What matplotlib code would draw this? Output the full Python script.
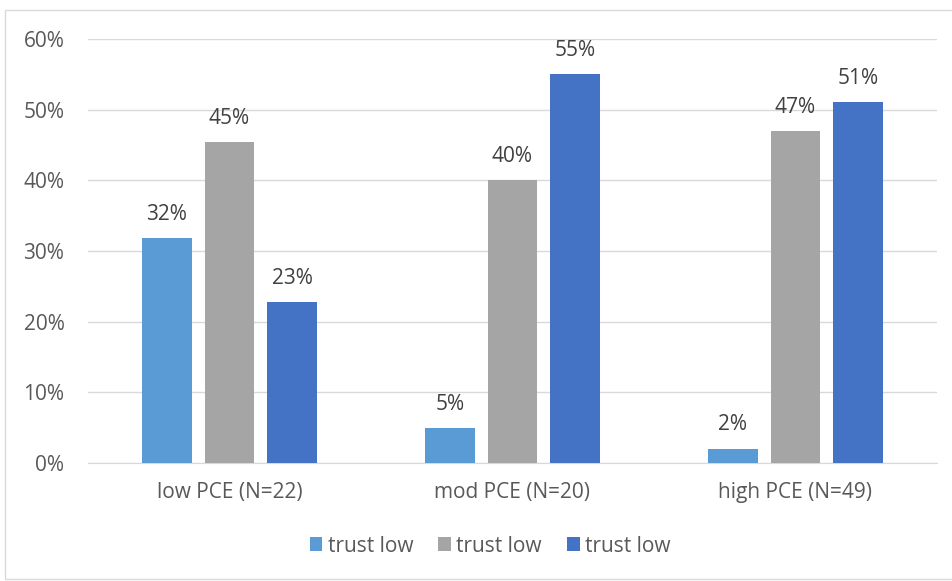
import matplotlib
matplotlib.use("Agg")
import matplotlib.pyplot as plt
from matplotlib.patches import Rectangle
import numpy as np

categories = ["low PCE (N=22)", "mod PCE (N=20)", "high PCE (N=49)"]
series_names = ["trust low", "trust low", "trust low"]
series_a = [31.82, 5.00, 2.04]
series_b = [45.45, 40.00, 46.94]
series_c = [22.73, 55.00, 51.02]
colors = ["#5B9BD5", "#A5A5A5", "#4472C4"]
yticks = [0, 10, 20, 30, 40, 50, 60]

plt.rcParams["font.family"] = ["Open Sans", "DejaVu Sans"]
text_color = "#595959"
fs = 15

fig = plt.figure(figsize=(9.52, 5.81), dpi=100)
W, H = 952, 581
ax = fig.add_axes([88 / W, 1 - 463 / H, (937 - 88) / W, (463 - 39) / H])

# chart frame
fig.patches.append(Rectangle((5 / W, 2 / H), 1.2, 1 - 12 / H, transform=fig.transFigure,
                             fill=False, edgecolor="#D9D9D9", linewidth=1.0))

x = np.arange(len(categories))
width = 0.176
step = 0.221
for i, (vals, name, col) in enumerate(zip([series_a, series_b, series_c], series_names, colors)):
    pos = x + (i - 1) * step
    ax.bar(pos, vals, width=width, color=col, label=name, zorder=3)
    for xb, v in zip(pos, vals):
        ax.annotate(f"{round(v):d}%", (xb, v), xytext=(0, 17), textcoords="offset points",
                    ha="center", va="center", fontsize=fs, color="#404040")

ax.set_xlim(-0.5, 2.5)
ax.set_ylim(0, 60)
ax.set_yticks(yticks)
ax.set_yticklabels([f"{t}%" for t in yticks])
ax.set_xticks(x)
ax.set_xticklabels(categories)
ax.grid(axis="y", color="#D9D9D9", linewidth=1.0, zorder=0)
for s in ["top", "right", "left"]:
    ax.spines[s].set_visible(False)
ax.spines["bottom"].set_color("#D9D9D9")
ax.tick_params(axis="both", length=0, labelsize=fs, colors=text_color)
ax.tick_params(axis="y", pad=17)
ax.tick_params(axis="x", pad=14)

leg = fig.legend(loc="center", bbox_to_anchor=(490 / W, 1 - 546 / H), ncol=3,
                 frameon=False, fontsize=fs, handlelength=0.62, handleheight=0.62,
                 handletextpad=0.25, columnspacing=1.2)
for t in leg.get_texts():
    t.set_color(text_color)

fig.savefig("out.png", dpi=100)
